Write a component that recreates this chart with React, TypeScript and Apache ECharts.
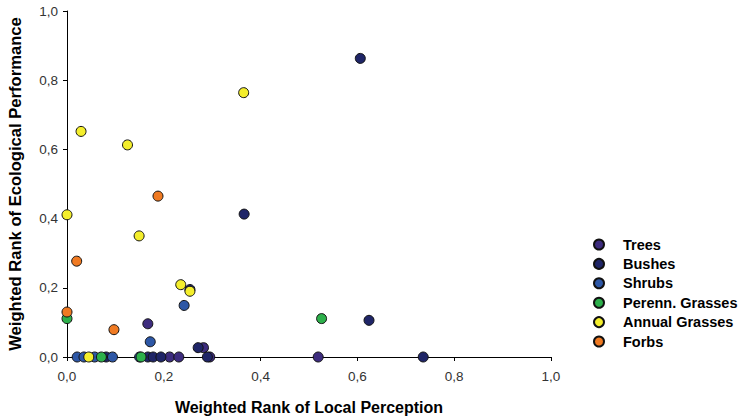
import React, { useEffect, useRef } from "react";
import * as echarts from "echarts";

const seriesNames = ["Trees", "Bushes", "Shrubs", "Perenn. Grasses", "Annual Grasses", "Forbs"];
const seriesColors = ["#3d2c7e", "#1f2567", "#2d57a6", "#2db04b", "#f4ee2c", "#f07a22"];

const trees = [[0.167, 0.096], [0.282, 0.027], [0.212, 0], [0.231, 0], [0.519, 0], [0.295, 0]];
const bushes = [[0.606, 0.863], [0.366, 0.413], [0.254, 0.195], [0.624, 0.106], [0.271, 0.027], [0.081, 0], [0.167, 0], [0.178, 0], [0.194, 0], [0.29, 0], [0.736, 0]];
const shrubs = [[0.242, 0.149], [0.172, 0.044], [0.021, 0], [0.035, 0], [0.057, 0], [0.094, 0], [0.15, 0]];
const perennGrasses = [[0, 0.111], [0.526, 0.111], [0.071, 0], [0.153, 0]];
const annualGrasses = [[0.365, 0.764], [0.029, 0.652], [0.125, 0.613], [0, 0.411], [0.149, 0.35], [0.235, 0.209], [0.254, 0.19], [0.045, 0]];
const forbs = [[0.188, 0.465], [0.02, 0.277], [0, 0.13], [0.097, 0.079]];

const seriesData = [trees, bushes, shrubs, perennGrasses, annualGrasses, forbs];
const tickValues = ["0,0", "0,2", "0,4", "0,6", "0,8", "1,0"];

const FONT = "'Liberation Sans', Arial, sans-serif";

export default function App() {
  const ref = useRef<HTMLDivElement>(null);
  useEffect(() => {
    if (!ref.current) return;
    const chart = echarts.init(ref.current, undefined, { renderer: "svg" });
    const fmt = (v: number) => tickValues[Math.round(v / 0.2)] ?? v.toFixed(1).replace(".", ",");
    const axisCommon = {
      min: 0,
      max: 1,
      interval: 0.2,
      splitLine: { show: false },
      axisLine: { show: true, onZero: false, lineStyle: { color: "#000", width: 1 } },
      axisTick: { show: true, inside: false, length: 4, lineStyle: { color: "#000" } },
      axisLabel: { color: "#333", fontSize: 13.5, fontFamily: FONT, formatter: fmt },
      nameLocation: "middle" as const,
    };
    chart.setOption({
      animation: false,
      backgroundColor: "#fff",
      grid: { left: 67, right: 187, top: 11, bottom: 60, containLabel: false, outerBoundsMode: "none" },
      xAxis: {
        ...axisCommon,
        type: "value",
        name: "Weighted Rank of Local Perception",
        nameGap: 42,
        nameTextStyle: { color: "#000", fontSize: 16, fontWeight: "bold", fontFamily: FONT },
        axisLabel: { ...axisCommon.axisLabel, margin: 12 },
      },
      yAxis: {
        ...axisCommon,
        type: "value",
        name: "Weighted Rank of Ecological Performance",
        nameGap: 43,
        nameTextStyle: { color: "#000", fontSize: 16.6, fontWeight: "bold", fontFamily: FONT },
        axisLabel: { ...axisCommon.axisLabel, margin: 9 },
      },
      legend: {
        orient: "vertical",
        left: 588,
        top: 232,
        itemWidth: 10,
        itemHeight: 10,
        itemGap: 4.4,
        icon: "circle",
        textStyle: { fontSize: 14.5, fontWeight: "bold", fontFamily: FONT, color: "#000", padding: [0, 0, 0, 14] },
        data: seriesNames,
      },
      series: seriesNames.map((name, i) => ({
        name,
        type: "scatter",
        data: seriesData[i],
        symbol: "circle",
        symbolSize: 10,
        clip: false,
        itemStyle: { color: seriesColors[i], borderColor: "#111", borderWidth: 1, opacity: 1 },
        emphasis: { disabled: true },
      })),
    });
    return () => chart.dispose();
  }, []);
  return <div ref={ref} style={{ width: 738, height: 417, position: "absolute", left: 0, top: 0 }} />;
}
